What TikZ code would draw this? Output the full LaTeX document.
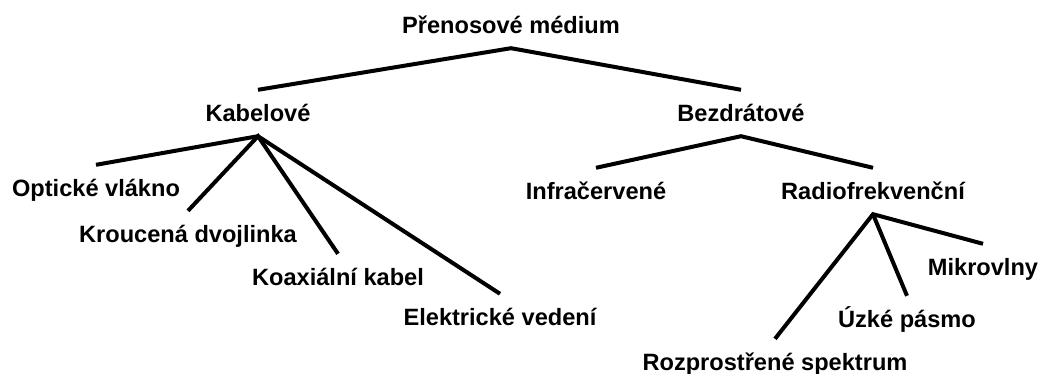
\documentclass[tikz,border=0pt]{standalone}
\usepackage{fontspec}
\setmainfont{Liberation Sans}
\begin{document}
\begin{tikzpicture}[x=1pt,y=-1pt,
  lbl/.style={inner sep=0pt, text height=16.9pt, text depth=0pt, minimum height=46pt,
    font=\fontsize{23.6}{28}\selectfont\bfseries},
  conn/.style={line width=4pt, line join=miter, black}]
\useasboundingbox (0,0) rectangle (1040,374);
\node[lbl] (root) at (511,25) {Přenosové médium};
\node[lbl] (kab) at (258,113) {Kabelové};
\node[lbl] (bez) at (741,113) {Bezdrátové};
\node[lbl] (opt) at (96,188) {Optické vlákno};
\node[lbl] (kro) at (188,234) {Kroucená dvojlinka};
\node[lbl] (koa) at (338,277) {Koaxiální kabel};
\node[lbl] (ele) at (500,317) {Elektrické vedení};
\node[lbl] (inf) at (596,191) {Infračervené};
\node[lbl] (rad) at (873,191) {Radiofrekvenční};
\node[lbl] (mik) at (983,267) {Mikrovlny};
\node[lbl] (uzk) at (907,319) {Úzké pásmo};
\node[lbl] (roz) at (775,362) {Rozprostřené spektrum};
\draw[conn] (kab.north) -- (root.south) -- (bez.north);
\draw[conn] (opt.north) -- (kab.south) -- (ele.north);
\draw[conn] (kro.north) -- (kab.south) -- (koa.north);
\draw[conn] (inf.north) -- (bez.south) -- (rad.north);
\draw[conn] (roz.north) -- (rad.south) -- (mik.north);
\draw[conn] (rad.south) -- (uzk.north);
\end{tikzpicture}
\end{document}
